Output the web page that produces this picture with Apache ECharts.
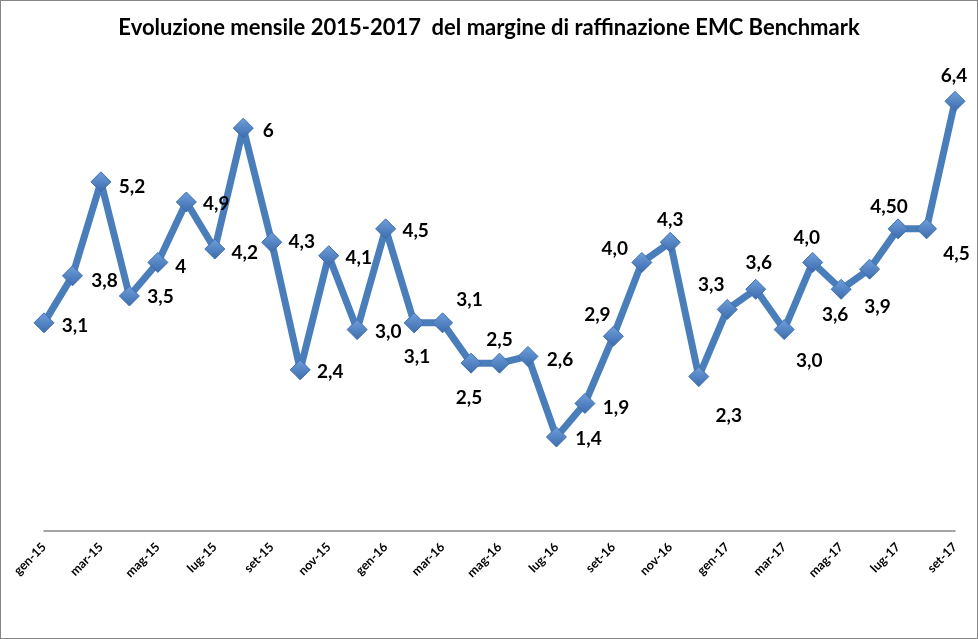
<!DOCTYPE html>
<html><head><meta charset="utf-8">
<script src="https://cdn.jsdelivr.net/npm/echarts@6/dist/echarts.min.js"></script>
<style>
html,body{margin:0;padding:0;background:#fff;}
#c{width:976px;height:637px;border:1px solid #868686;}
</style></head>
<body><div id="c"></div>
<script>
const categories = ["gen-15","feb-15","mar-15","apr-15","mag-15","giu-15","lug-15","ago-15","set-15","ott-15","nov-15","dic-15",
"gen-16","feb-16","mar-16","apr-16","mag-16","giu-16","lug-16","ago-16","set-16","ott-16","nov-16","dic-16",
"gen-17","feb-17","mar-17","apr-17","mag-17","giu-17","lug-17","ago-17","set-17"];
const values = [3.1,3.8,5.2,3.5,4.0,4.9,4.2,6.0,4.3,2.4,4.1,3.0,4.5,3.1,3.1,2.5,2.5,2.6,1.4,1.9,2.9,4.0,4.3,2.3,3.3,3.6,3.0,4.0,3.6,3.9,4.5,4.5,6.4];
const labelTexts = ["3,1","3,8","5,2","3,5","4","4,9","4,2","6","4,3","2,4","4,1","3,0","4,5","3,1","3,1","2,5","2,5","2,6","1,4","1,9","2,9","4,0","4,3","2,3","3,3","3,6","3,0","4,0","3,6","3,9","4,50","4,5","6,4"];
const labelOffsets = [[31,3],[32,5],[31,5],[31,1],[23,4],[30,2],[30,4],[25,3],[30,0],[30,2],[30,2],[31,2],[30,2],
[3,34],[27,-23],[-2,35],[0,-23],[32,3],[32,2],[31,4],[-16,-21],[-27,-14],[0,-22],[30,39],[-16,-25],[3,-26],[25,31],[-6,-25],[-6,26],[8,38],[-9,-22],[30,25],[-1,-25]];

const chart = echarts.init(document.getElementById('c'));
const fontFam = 'Lato, "Open Sans", sans-serif';
chart.setOption({
  animation:false,
  title:{text:'Evoluzione mensile 2015-2017  del margine di raffinazione EMC Benchmark',left:'center',top:11,
    textStyle:{fontFamily:fontFam,fontWeight:'bold',fontSize:22,color:'#000'}},
  grid:{left:43,right:22,top:60,bottom:107},
  xAxis:{type:'category',data:categories,boundaryGap:false,
    axisLine:{lineStyle:{color:'#868686',width:1.5}},axisTick:{show:false},
    axisLabel:{interval:1,rotate:45,fontFamily:fontFam,fontWeight:'bold',fontSize:12.5,color:'#000',margin:14}},
  yAxis:{type:'value',min:0,max:7,show:false,splitLine:{show:false}},
  series:[{type:'line',data:values,
    symbol:'diamond',symbolSize:20,showAllSymbol:true,
    labelLayout:p=>({hideOverlap:false,dx:labelOffsets[p.dataIndex][0],dy:labelOffsets[p.dataIndex][1]}),
    lineStyle:{color:'#4a7ebb',width:7},
    itemStyle:{color:new echarts.graphic.LinearGradient(0,0,0,1,[{offset:0,color:'#6f9fdc'},{offset:1,color:'#3b6bab'}]),
      borderColor:'#3f6fae',borderWidth:1},
    label:{show:true,position:'inside',formatter:p=>labelTexts[p.dataIndex],
      fontFamily:fontFam,fontWeight:'bold',fontSize:19,color:'#000'}
  }]
});
</script></body></html>
